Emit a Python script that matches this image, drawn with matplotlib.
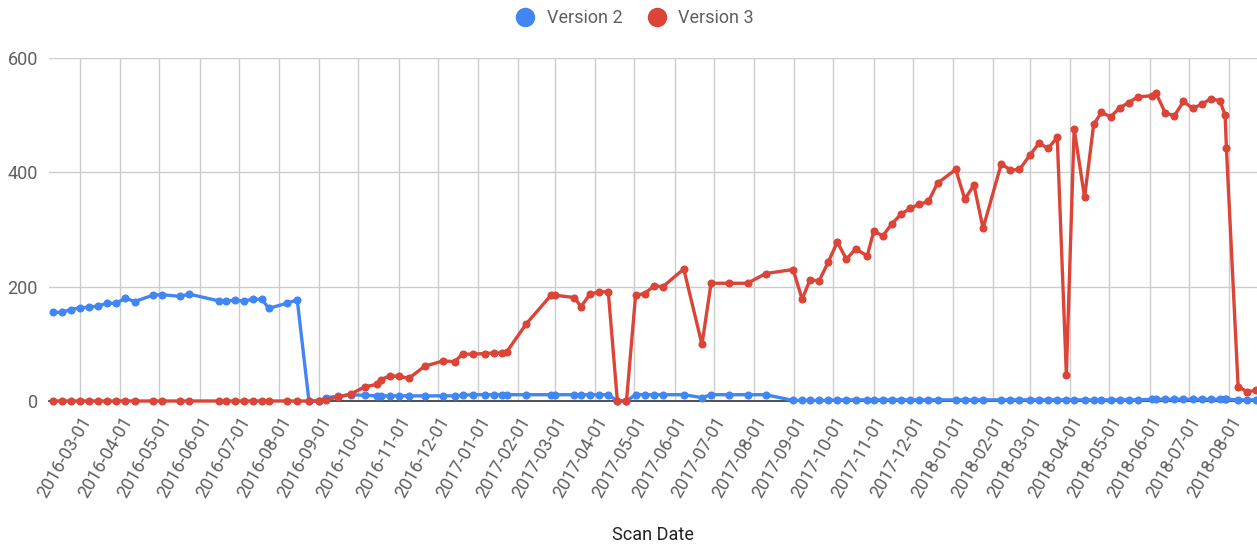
import matplotlib
matplotlib.use("Agg")
import matplotlib.pyplot as plt
import matplotlib.dates as mdates
from matplotlib.lines import Line2D
import numpy as np

plt.rcParams['font.family'] = ['Roboto', 'DejaVu Sans']

scan_dates = [
    "2016-02-09", "2016-02-16", "2016-02-23", "2016-03-01", "2016-03-08", "2016-03-15",
    "2016-03-22", "2016-03-29", "2016-04-05", "2016-04-12", "2016-04-26", "2016-05-03",
    "2016-05-17", "2016-05-24", "2016-06-16", "2016-06-21", "2016-06-28", "2016-07-05",
    "2016-07-12", "2016-07-19", "2016-07-24", "2016-08-07", "2016-08-15", "2016-08-24",
    "2016-09-01", "2016-09-06", "2016-09-15", "2016-09-25", "2016-10-06", "2016-10-15",
    "2016-10-18", "2016-10-25", "2016-11-01", "2016-11-09", "2016-11-21", "2016-12-05",
    "2016-12-14", "2016-12-20", "2016-12-28", "2017-01-06", "2017-01-13", "2017-01-19",
    "2017-01-23", "2017-02-07", "2017-02-26", "2017-03-01", "2017-03-16", "2017-03-21",
    "2017-03-28", "2017-04-04", "2017-04-11", "2017-04-18", "2017-04-25", "2017-05-02",
    "2017-05-09", "2017-05-16", "2017-05-23", "2017-06-08", "2017-06-22", "2017-06-29",
    "2017-07-13", "2017-07-27", "2017-08-10", "2017-08-31",
    "2017-09-07", "2017-09-13", "2017-09-20", "2017-09-27", "2017-10-04", "2017-10-11",
    "2017-10-18", "2017-10-27", "2017-11-01", "2017-11-08", "2017-11-15", "2017-11-22",
    "2017-11-29", "2017-12-06", "2017-12-13", "2017-12-20", "2018-01-03", "2018-01-10",
    "2018-01-17", "2018-01-24", "2018-02-07", "2018-02-14", "2018-02-21", "2018-03-01",
    "2018-03-08", "2018-03-15", "2018-03-22", "2018-03-29", "2018-04-04", "2018-04-12",
    "2018-04-19", "2018-04-25", "2018-05-02", "2018-05-09", "2018-05-16", "2018-05-23",
    "2018-06-03", "2018-06-06", "2018-06-13", "2018-06-20", "2018-06-27", "2018-07-04",
    "2018-07-11", "2018-07-18", "2018-07-25", "2018-07-29", "2018-07-30", "2018-08-08",
    "2018-08-15", "2018-08-22",
]

version2 = [
    155, 155, 160, 163, 164, 166, 171, 171, 180, 174, 185, 186,
    183, 187, 175, 175, 176, 175, 178, 178, 162, 171, 177, 0,
    0, 6, 8, 11, 10, 9, 9, 9, 9, 9, 9, 9,
    9, 10, 11, 11, 11, 11, 11, 11, 11, 11, 11, 11,
    11, 11, 11, 0, 0, 11, 11, 11, 11, 11, 6, 11,
    11, 11, 11, 1,
    1, 1, 1, 1, 2, 2, 2, 2, 2, 2, 2, 2,
    2, 2, 2, 2, 2, 2, 2, 2, 2, 2, 2, 2,
    2, 2, 2, 2, 2, 2, 2, 2, 2, 2, 2, 2,
    3, 3, 3, 3, 3, 3, 3, 3, 3, 3, 3, 2,
    2, 2,
]

version3 = [
    0, 0, 0, 0, 0, 0, 0, 0, 0, 0, 0, 0,
    0, 0, 0, 0, 0, 0, 0, 0, 0, 0, 0, 0,
    0, 2, 7, 12, 25, 29, 37, 44, 43, 40, 61, 70,
    69, 82, 82, 83, 84, 84, 86, 135, 185, 185, 181, 165,
    187, 191, 191, 0, 0, 185, 188, 201, 200, 231, 99, 206,
    206, 206, 223, 230,
    178, 212, 210, 243, 278, 248, 266, 254, 297, 289, 310, 327,
    337, 344, 349, 381, 405, 353, 378, 302, 415, 404, 405, 430,
    451, 442, 461, 46, 476, 356, 484, 505, 497, 513, 522, 532,
    534, 538, 504, 499, 524, 512, 519, 529, 525, 500, 442, 25,
    16, 19,
]

series_names = ["Version 2", "Version 3"]
colors = ["#4285F4", "#DB4437"]
y_ticks = [0, 200, 400, 600]

x = np.array(scan_dates, dtype="datetime64[D]")

W, H = 1257, 544
fig = plt.figure(figsize=(W / 100, H / 100), dpi=100)
ax = fig.add_axes([49 / W, 1 - 401 / H, (1257 - 49) / W, (401 - 58) / H])

for vals, col, z in [(version2, colors[0], 3), (version3, colors[1], 4)]:
    ax.plot(x, vals, color=col, lw=2.4, marker="o", ms=4.8, mec=col, mfc=col,
            zorder=z, clip_on=False, solid_joinstyle="round")

ax.set_ylim(0, 600)
ax.set_yticks(y_ticks)
ax.set_xlim(np.datetime64("2016-02-06T06:00"), np.datetime64("2018-08-22T12:00"))
ax.xaxis.set_major_locator(mdates.MonthLocator(bymonthday=1))
ax.xaxis.set_major_formatter(mdates.DateFormatter("%Y-%m-%d"))

ax.grid(True, color="#cccccc", lw=1.0, zorder=0)
ax.set_axisbelow(True)
for s in ["top", "right", "left"]:
    ax.spines[s].set_visible(False)
ax.spines["bottom"].set_color("#333333")
ax.spines["bottom"].set_linewidth(1.2)
ax.spines["bottom"].set_zorder(2)

ax.tick_params(axis="both", length=0, colors="#5f5f5f", labelsize=13)
ax.tick_params(axis="y", pad=8)
ax.tick_params(axis="x", pad=9)
for lbl in ax.get_xticklabels():
    lbl.set_rotation(60)
    lbl.set_ha("right")
    lbl.set_va("top")
    lbl.set_rotation_mode("anchor")

ax.set_xlabel("Scan Date", fontsize=13, color="#222222", labelpad=18)

handles = [Line2D([], [], ls="none", marker="o", ms=13, mfc=c, mec=c) for c in colors]
fig.legend(handles, series_names, loc="center", bbox_to_anchor=(634 / W, 1 - 18 / H),
           ncol=2, frameon=False, fontsize=13, labelcolor="#5f5f5f",
           handletextpad=0.6, columnspacing=1.3, handlelength=1.2)

fig.savefig("out.png", dpi=100)
